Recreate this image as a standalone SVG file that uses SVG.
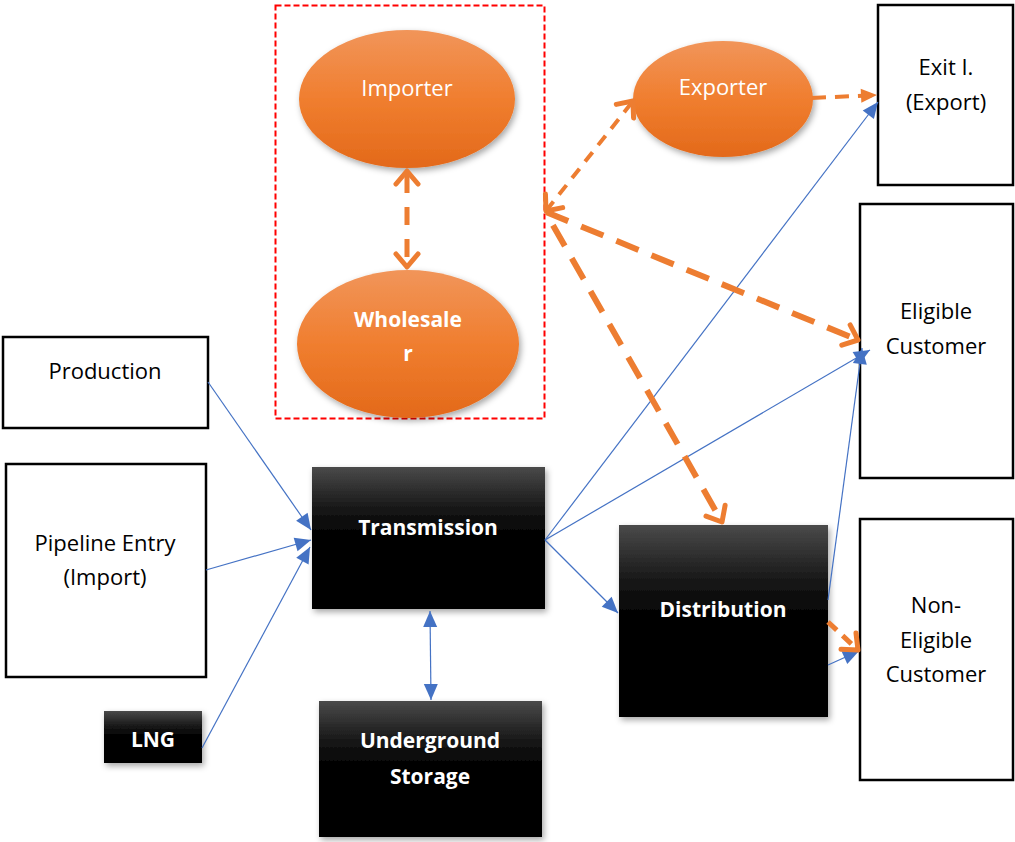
<svg xmlns="http://www.w3.org/2000/svg" width="1015" height="842" viewBox="0 0 1015 842">
  <style>
    .box { fill: #ffffff; stroke: #000000; stroke-width: 2.5; }
    .dark { fill: url(#darkGrad); filter: url(#shadow); }
    .oval { fill: url(#orangeGrad); filter: url(#shadow); }
    .lbl { font-family: "Open Sans", "Liberation Sans", sans-serif; font-size: 22px; fill: #000000; text-anchor: middle; }
    .wlbl { font-family: "Open Sans", "Liberation Sans", sans-serif; font-size: 22px; fill: #ffffff; text-anchor: middle; }
    .bold { font-weight: bold; font-size: 21px; }
    .blue { stroke: #4472C4; stroke-width: 1.2; fill: none; }
    .orange { stroke: #ED7D31; fill: none; }
  </style>
  <defs>
    <linearGradient id="darkGrad" x1="0" y1="0" x2="0" y2="1">
      <stop offset="0" stop-color="#4a4a4a"/>
      <stop offset="0.3" stop-color="#161616"/>
      <stop offset="0.5" stop-color="#000000"/>
      <stop offset="1" stop-color="#000000"/>
    </linearGradient>
    <linearGradient id="orangeGrad" x1="0" y1="0" x2="0" y2="1">
      <stop offset="0" stop-color="#F1955A"/>
      <stop offset="0.5" stop-color="#F07E2F"/>
      <stop offset="1" stop-color="#E3691A"/>
    </linearGradient>
    <filter id="shadow" x="-20%" y="-20%" width="140%" height="140%">
      <feDropShadow dx="2" dy="3" stdDeviation="3" flood-color="#000000" flood-opacity="0.35"/>
    </filter>
    <marker id="blueHead" markerUnits="userSpaceOnUse" viewBox="-17 -9 18 18" markerWidth="18" markerHeight="18" refX="0" refY="0" orient="auto-start-reverse">
      <path d="M-16,-7 L0,0 L-16,7 Z" fill="#4472C4"/>
    </marker>
    <marker id="chevron" markerUnits="userSpaceOnUse" viewBox="-18 -14 22 28" markerWidth="22" markerHeight="28" refX="0" refY="0" orient="auto-start-reverse">
      <path d="M-13,-11 L0,0 L-13,11" fill="none" stroke="#ED7D31" stroke-width="5" stroke-linecap="round" stroke-linejoin="round"/>
    </marker>
    <marker id="orangeHead" markerUnits="userSpaceOnUse" viewBox="-17 -9 18 18" markerWidth="18" markerHeight="18" refX="0" refY="0" orient="auto">
      <path d="M-16,-7 L0,0 L-16,7 Z" fill="#ED7D31"/>
    </marker>
  </defs>

  <rect width="1015" height="842" fill="#ffffff"/>

  <!-- trading group outline -->
  <rect id="trading-group" x="275.5" y="5.5" width="269" height="413" fill="none" stroke="#FF0000" stroke-width="2" stroke-dasharray="6 3"/>

  <!-- supply side -->
  <g id="production">
    <rect class="box" x="3" y="337" width="205" height="91"/>
    <text class="lbl" x="105" y="379">Production</text>
  </g>
  <g id="pipeline-entry">
    <rect class="box" x="6" y="464" width="200" height="213"/>
    <text class="lbl" x="105" y="551">Pipeline Entry</text>
    <text class="lbl" x="105" y="585">(Import)</text>
  </g>
  <g id="lng">
    <rect class="dark" x="104" y="711" width="98" height="52"/>
    <text class="wlbl bold" x="153" y="747">LNG</text>
  </g>

  <!-- network -->
  <g id="transmission">
    <rect class="dark" x="312" y="467" width="233" height="142"/>
    <text class="wlbl bold" x="428" y="535">Transmission</text>
  </g>
  <g id="underground-storage">
    <rect class="dark" x="319" y="701" width="223" height="136"/>
    <text class="wlbl bold" x="430" y="748">Underground</text>
    <text class="wlbl bold" x="430" y="784">Storage</text>
  </g>
  <g id="distribution">
    <rect class="dark" x="619" y="525" width="209" height="192"/>
    <text class="wlbl bold" x="723" y="617">Distribution</text>
  </g>

  <!-- market players -->
  <g id="importer">
    <ellipse class="oval" cx="407" cy="99" rx="108" ry="69"/>
    <text class="wlbl" x="407" y="96">Importer</text>
  </g>
  <g id="wholesaler">
    <ellipse class="oval" cx="408" cy="344" rx="111" ry="74"/>
    <text class="wlbl bold" x="408" y="327">Wholesale</text>
    <text class="wlbl bold" x="408" y="361">r</text>
  </g>
  <g id="exporter">
    <ellipse class="oval" cx="723" cy="99" rx="90" ry="58"/>
    <text class="wlbl" x="723" y="95">Exporter</text>
  </g>

  <!-- exits and customers -->
  <g id="exit-export">
    <rect class="box" x="878" y="5" width="135" height="180"/>
    <text class="lbl" x="946" y="75">Exit I.</text>
    <text class="lbl" x="946" y="110">(Export)</text>
  </g>
  <g id="eligible-customer">
    <rect class="box" x="860" y="204" width="153" height="274"/>
    <text class="lbl" x="936" y="319">Eligible</text>
    <text class="lbl" x="936" y="354">Customer</text>
  </g>
  <g id="non-eligible-customer">
    <rect class="box" x="860" y="519" width="153" height="261"/>
    <text class="lbl" x="936" y="613">Non-</text>
    <text class="lbl" x="936" y="648">Eligible</text>
    <text class="lbl" x="936" y="682">Customer</text>
  </g>

  <!-- connectors -->
  <g id="connectors">
    <!-- physical gas flows -->
    <path class="blue" d="M208,382 L311,530" marker-end="url(#blueHead)"/>
    <path class="blue" d="M206,570 L311,540" marker-end="url(#blueHead)"/>
    <path class="blue" d="M202,748 L310,547" marker-end="url(#blueHead)"/>
    <path class="blue" d="M545,540 L878,102" marker-end="url(#blueHead)"/>
    <path class="blue" d="M545,540 L870,350" marker-end="url(#blueHead)"/>
    <path class="blue" d="M545,540 L618,613" marker-end="url(#blueHead)"/>
    <path class="blue" d="M430,611 L431,700" marker-start="url(#blueHead)" marker-end="url(#blueHead)"/>
    <path class="blue" d="M828,600 L862,348" marker-end="url(#blueHead)"/>
    <path class="blue" d="M828,665 L859,651" marker-end="url(#blueHead)"/>

    <!-- trading relations -->
    <path class="orange" d="M407,171 L407,267" stroke-width="5" stroke-dasharray="18 14" stroke-dashoffset="-4" marker-start="url(#chevron)" marker-end="url(#chevron)"/>
    <path class="orange" d="M546,211 L633,101" stroke-width="4" stroke-dasharray="12 9" marker-start="url(#chevron)" marker-end="url(#chevron)"/>
    <path class="orange" d="M546,212 L858,340" stroke-width="6" stroke-dasharray="24 14" marker-end="url(#chevron)"/>
    <path class="orange" d="M546,213 L722,522" stroke-width="6" stroke-dasharray="24 14" stroke-dashoffset="-14" marker-end="url(#chevron)"/>
    <path class="orange" d="M812,98 L877,95" stroke-width="4" stroke-dasharray="14 9" marker-end="url(#orangeHead)"/>
    <path class="orange" d="M828,622 L858,650" stroke-width="5" stroke-dasharray="12 8" marker-end="url(#chevron)"/>
  </g>
</svg>
